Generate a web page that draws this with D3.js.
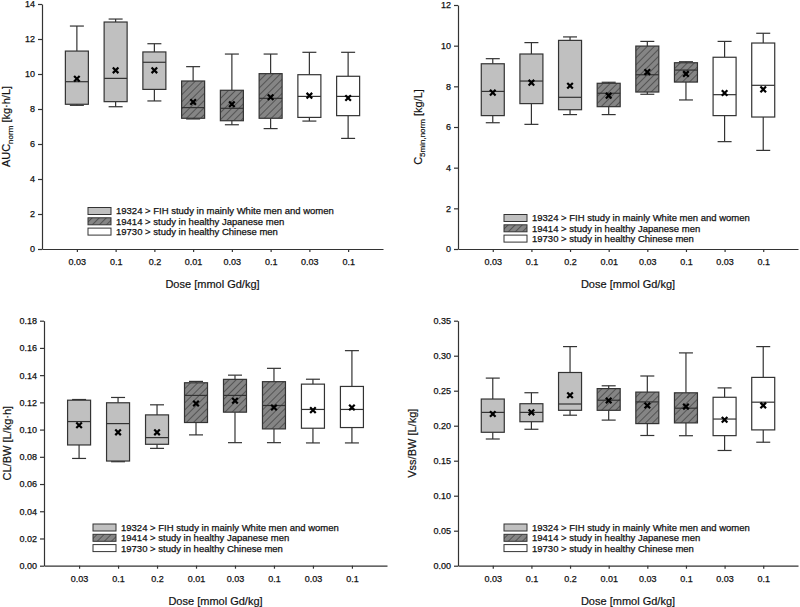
<!DOCTYPE html>
<html>
<head>
<meta charset="utf-8">
<script src="https://cdn.jsdelivr.net/npm/d3@7"></script>
<style>
  body { margin: 0; background: #fff; }
  svg { display: block; font-family: Arial, "Liberation Sans", sans-serif; }
  .axis text { font-size: 9px; fill: #111; stroke: #111; stroke-width: 0.25; }
  .axis path, .axis line { stroke: #333; stroke-width: 1.2; }
  .title { font-size: 11px; fill: #111; stroke: #111; stroke-width: 0.2; }
  .legend text { font-size: 9.5px; fill: #111; stroke: #111; stroke-width: 0.25; }
</style>
</head>
<body>
<svg id="plot"></svg>
<script>
const width = 800;
const height = 607;

// categories (dose per study)
const doses = ["0.03", "0.1", "0.2", "0.01", "0.03", "0.1", "0.03", "0.1"];
const studyOf = [0, 0, 0, 1, 1, 1, 2, 2];
const studyLabels = [
  "19324 > FIH study in mainly White men and women",
  "19414 > study in healthy Japanese men",
  "19730 > study in healthy Chinese men",
];

// box stats: [whisker low, Q1, median, Q3, whisker high, mean]
const aucStats = [
  [8.21, 8.27, 9.56, 11.31, 12.74, 9.73],
  [8.13, 8.42, 9.75, 12.97, 13.14, 10.21],
  [8.46, 9.12, 10.67, 11.26, 11.73, 10.21],
  [7.43, 7.47, 8.08, 9.6, 10.42, 8.4],
  [7.1, 7.33, 8.04, 9.07, 11.14, 8.27],
  [6.88, 7.47, 8.61, 10.02, 11.14, 8.67],
  [7.31, 7.52, 8.72, 9.96, 11.24, 8.76],
  [6.32, 7.62, 8.72, 9.87, 11.24, 8.63],
];
const c5Stats = [
  [6.21, 6.56, 7.75, 9.11, 9.36, 7.69],
  [6.13, 7.15, 8.26, 9.59, 10.15, 8.18],
  [6.61, 6.85, 7.46, 10.26, 10.43, 8.03],
  [6.61, 7.0, 7.66, 8.15, 8.2, 7.54],
  [7.61, 7.72, 8.57, 9.98, 10.21, 8.7],
  [7.33, 8.21, 8.8, 9.16, 9.21, 8.61],
  [5.28, 6.56, 7.59, 9.43, 10.21, 7.67],
  [4.85, 6.49, 8.05, 10.13, 10.61, 7.85],
];
const clStats = [
  [0.0788, 0.0887, 0.1059, 0.1216, 0.1221, 0.1032],
  [0.0764, 0.0769, 0.1044, 0.1197, 0.1236, 0.098],
  [0.0862, 0.0892, 0.0941, 0.1108, 0.1182, 0.098],
  [0.0961, 0.1052, 0.1251, 0.1344, 0.1354, 0.1192],
  [0.0904, 0.1128, 0.1251, 0.1369, 0.14, 0.1212],
  [0.0904, 0.1005, 0.1177, 0.1352, 0.145, 0.1162],
  [0.0902, 0.101, 0.1148, 0.1334, 0.137, 0.1143],
  [0.0902, 0.1015, 0.1148, 0.1317, 0.158, 0.1162],
];
const vssStats = [
  [0.181, 0.1906, 0.219, 0.2381, 0.268, 0.2167],
  [0.1949, 0.2057, 0.219, 0.2314, 0.2471, 0.2191],
  [0.215, 0.222, 0.231, 0.276, 0.313, 0.2435],
  [0.208, 0.222, 0.2364, 0.253, 0.257, 0.236],
  [0.186, 0.203, 0.234, 0.248, 0.271, 0.2288],
  [0.1857, 0.204, 0.225, 0.247, 0.304, 0.2273],
  [0.1646, 0.1858, 0.2095, 0.2406, 0.254, 0.2085],
  [0.1764, 0.194, 0.2336, 0.269, 0.313, 0.229],
];

const panels = [
  { stats: aucStats, left: 42, right: 383, top: 4, bottom: 249, yMax: 14, step: 2, fmt: d3.format("d"),
    title: ["AUC", "norm", " [kg·h/L]"], titleX: 10, legX: 88, legY: 211 },
  { stats: c5Stats, left: 458, right: 798, top: 5, bottom: 249, yMax: 12, step: 2, fmt: d3.format("d"),
    title: ["C", "5min,norm", " [kg/L]"], titleX: 422, legX: 504, legY: 218 },
  { stats: clStats, left: 44, right: 387, top: 320.7, bottom: 565.7, yMax: 0.18, step: 0.02, fmt: d3.format(".2f"),
    title: ["CL/BW [L/kg·h]", "", ""], titleX: 11, legX: 93, legY: 527.5 },
  { stats: vssStats, left: 458, right: 798, top: 320.7, bottom: 565.7, yMax: 0.35, step: 0.05, fmt: d3.format(".2f"),
    title: ["Vss/BW [L/kg]", "", ""], titleX: 416, legX: 504, legY: 527.5 },
];

const svg = d3.select("#plot").attr("width", width).attr("height", height);

// hatch pattern for the Japanese study
const defs = svg.append("defs");
const pat = defs.append("pattern")
  .attr("id", "hatch")
  .attr("patternUnits", "userSpaceOnUse")
  .attr("width", 5)
  .attr("height", 5)
  .attr("patternTransform", "rotate(45)");
pat.append("rect").attr("width", 5).attr("height", 5).attr("fill", "#858585");
pat.append("line").attr("x1", 0).attr("y1", 0).attr("x2", 0).attr("y2", 5)
  .attr("stroke", "#2a2a2a").attr("stroke-width", 1.1);

const fills = ["#c0c0c0", "url(#hatch)", "#ffffff"];
const boxW = 23;
const capW = 14;
const stroke = "#333";

panels.forEach((p) => {
  const g = svg.append("g");

  const x = d3.scalePoint()
    .domain(d3.range(doses.length))
    .range([p.left, p.right])
    .padding(0.9);

  const y = d3.scaleLinear()
    .domain([0, p.yMax])
    .range([p.bottom, p.top]);

  const ticks = d3.range(0, p.yMax + p.step / 2, p.step);

  g.append("g")
    .attr("class", "axis")
    .attr("transform", `translate(${p.left},0)`)
    .call(d3.axisLeft(y).tickValues(ticks).tickFormat(p.fmt).tickSize(4).tickSizeOuter(0).tickPadding(3));

  g.append("g")
    .attr("class", "axis")
    .attr("transform", `translate(0,${p.bottom})`)
    .call(d3.axisBottom(x).tickFormat((i) => doses[i]).tickSize(3).tickSizeOuter(0).tickPadding(7));

  // x title
  g.append("text")
    .attr("class", "title")
    .attr("x", (p.left + p.right) / 2)
    .attr("y", p.bottom + 39)
    .attr("text-anchor", "middle")
    .text("Dose [mmol Gd/kg]");

  // y title (with optional subscript)
  const yt = g.append("text")
    .attr("class", "title")
    .attr("transform", `translate(${p.titleX},${(p.top + p.bottom) / 2}) rotate(-90)`)
    .attr("text-anchor", "middle");
  yt.append("tspan").text(p.title[0]);
  if (p.title[1]) {
    yt.append("tspan").attr("font-size", "8px").attr("dy", 3).text(p.title[1]);
    yt.append("tspan").attr("dy", -3).text(p.title[2]);
  }

  // boxes
  const box = g.selectAll(".box")
    .data(p.stats)
    .enter()
    .append("g")
    .attr("class", "box");

  // whiskers
  box.append("line")
    .attr("x1", (d, i) => x(i)).attr("x2", (d, i) => x(i))
    .attr("y1", (d) => y(d[3])).attr("y2", (d) => y(d[4]))
    .attr("stroke", stroke).attr("stroke-width", 1.2);
  box.append("line")
    .attr("x1", (d, i) => x(i)).attr("x2", (d, i) => x(i))
    .attr("y1", (d) => y(d[1])).attr("y2", (d) => y(d[0]))
    .attr("stroke", stroke).attr("stroke-width", 1.2);
  box.append("line")
    .attr("x1", (d, i) => x(i) - capW / 2).attr("x2", (d, i) => x(i) + capW / 2)
    .attr("y1", (d) => y(d[4])).attr("y2", (d) => y(d[4]))
    .attr("stroke", stroke).attr("stroke-width", 1.2);
  box.append("line")
    .attr("x1", (d, i) => x(i) - capW / 2).attr("x2", (d, i) => x(i) + capW / 2)
    .attr("y1", (d) => y(d[0])).attr("y2", (d) => y(d[0]))
    .attr("stroke", stroke).attr("stroke-width", 1.2);

  box.append("rect")
    .attr("x", (d, i) => x(i) - boxW / 2)
    .attr("y", (d) => y(d[3]))
    .attr("width", boxW)
    .attr("height", (d) => y(d[1]) - y(d[3]))
    .attr("fill", (d, i) => fills[studyOf[i]])
    .attr("stroke", stroke)
    .attr("stroke-width", 1.2);

  // median
  box.append("line")
    .attr("x1", (d, i) => x(i) - boxW / 2).attr("x2", (d, i) => x(i) + boxW / 2)
    .attr("y1", (d) => y(d[2])).attr("y2", (d) => y(d[2]))
    .attr("stroke", stroke).attr("stroke-width", 1.2);

  // mean marker
  box.append("path")
    .attr("transform", (d, i) => `translate(${x(i)},${y(d[5])})`)
    .attr("d", "M-2.8,-2.8L2.8,2.8M-2.8,2.8L2.8,-2.8")
    .attr("stroke", "#000")
    .attr("stroke-width", 2.2);

  // legend
  const leg = g.append("g")
    .attr("class", "legend")
    .attr("transform", `translate(${p.legX},${p.legY})`);
  const row = leg.selectAll("g")
    .data(studyLabels)
    .enter()
    .append("g")
    .attr("transform", (d, i) => `translate(0,${i * 10.3})`);
  row.append("rect")
    .attr("x", 0).attr("y", -3.5)
    .attr("width", 23).attr("height", 7)
    .attr("fill", (d, i) => fills[i])
    .attr("stroke", stroke)
    .attr("stroke-width", 1);
  row.append("text")
    .attr("x", 28)
    .attr("y", 3.4)
    .text((d) => d);
});
</script>
</body>
</html>
